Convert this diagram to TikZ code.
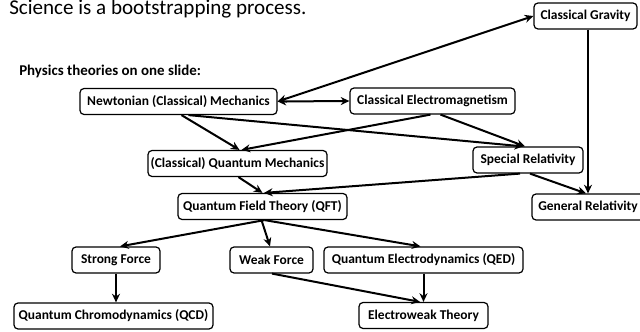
\documentclass[tikz,border=0pt]{standalone}
\usepackage{fontspec}
\setmainfont{Carlito}
\usetikzlibrary{arrows.meta,calc}
\begin{document}
\begin{tikzpicture}[x=0.75pt,y=-0.75pt,
  box/.style={draw,rounded corners=3pt,line width=0.9pt,font=\fontsize{10.1pt}{12pt}\selectfont\bfseries,inner sep=0pt,minimum height=19.5pt},
  conn/.style={line width=1.5pt,-{Stealth[length=6.5pt,width=6pt]}},
  both/.style={line width=1.5pt,{Stealth[length=6.5pt,width=6pt]}-{Stealth[length=6.5pt,width=6pt]}}]
\useasboundingbox (0,0) rectangle (640,332);
\node[anchor=base west,inner sep=0pt,font=\fontsize{15.8pt}{18pt}\selectfont] (title) at (9,15) {Science is a bootstrapping process.};
\node[anchor=west,inner sep=0pt,font=\fontsize{11.2pt}{13pt}\selectfont\bfseries] (sub) at (19,71) {Physics theories on one slide:};
\node[box,minimum width=147.75pt] (newton) at (178.5,101.5) {Newtonian (Classical) Mechanics};
\node[box,minimum width=123.75pt] (em) at (432.5,101) {Classical Electromagnetism};
\node[box,minimum width=77.25pt] (gravity) at (585.5,16) {Classical Gravity};
\node[box,minimum width=134.25pt] (qm) at (237.5,163.5) {(Classical) Quantum Mechanics};
\node[box,minimum width=82.5pt] (sr) at (528,160) {Special Relativity};
\node[box,minimum width=126.75pt] (qft) at (262.5,206.5) {Quantum Field Theory (QFT)};
\node[box,minimum width=84pt] (gr) at (588,207) {General Relativity};
\node[box,minimum width=66pt] (strong) at (116,260) {Strong Force};
\node[box,minimum width=62.25pt] (weak) at (271.5,260) {Weak Force};
\node[box,minimum width=149.25pt] (qed) at (423.5,260) {Quantum Electrodynamics (QED)};
\node[box,minimum width=149.25pt] (qcd) at (113.5,316) {Quantum Chromodynamics (QCD)};
\node[box,minimum width=96.75pt] (ew) at (423.5,315.5) {Electroweak Theory};
\draw[both] (newton.east) -- (gravity.west);
\draw[both] (newton.east) -- (em.west);
\draw[conn] ($(newton.south)+(3,0)$) -- ($(qm.north)+(2,0)$);
\draw[conn] ($(newton.south)+(10,0)$) -- ($(sr.north)+(-5,0)$);
\draw[conn] ($(em.south)+(-2,0)$) -- ($(qm.north)+(4,0)$);
\draw[conn] ($(em.south)+(8,0)$) -- ($(sr.north)+(-3,0)$);
\draw[conn] ($(gravity.south)+(2.5,0)$) -- (gr.north);
\draw[conn] ($(sr.south)+(2,0)$) -- ($(gr.north)+(-2,0)$);
\draw[conn] ($(sr.south)+(-8,0)$) -- ($(qft.north)+(1.5,0)$);
\draw[conn] ($(qm.south)+(1,0)$) -- (qft.north);
\draw[conn] ($(qft.south)+(2,0)$) -- ($(strong.north)+(4,0)$);
\draw[conn] ($(qft.south)+(-1,0)$) -- ($(weak.north)+(-1.5,0)$);
\draw[conn] ($(qft.south)+(2,0)$) -- ($(qed.north)+(-3,0)$);
\draw[conn] (strong.south) -- (strong.south |- qcd.north);
\draw[conn] ($(weak.south)+(0.5,0)$) -- ($(ew.north)+(-3.5,0)$);
\draw[conn] (qed.south) -- (ew.north);
\end{tikzpicture}
\end{document}
